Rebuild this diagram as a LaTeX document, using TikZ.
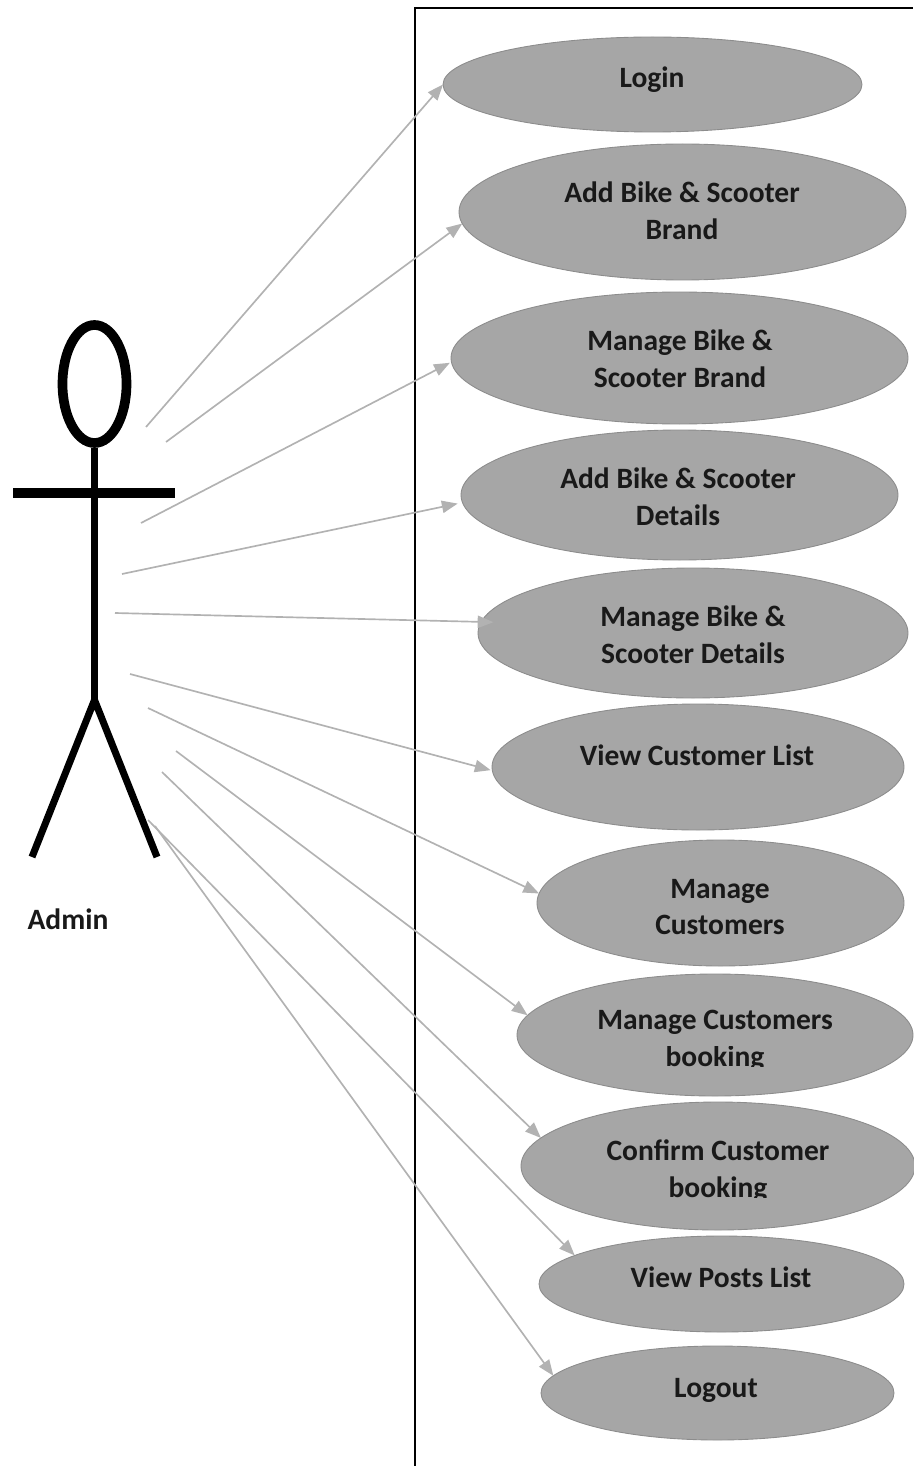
\documentclass[tikz,border=0pt]{standalone}
\usepackage{fontspec}
\usepackage{trimclip}
\setmainfont{Carlito}
\usetikzlibrary{arrows.meta, shapes.geometric}
\tikzset{
  usecase/.style={ellipse, draw=black!45, line width=0.5pt, fill=black!35, inner sep=0pt, outer sep=0pt},
  uclabel/.style={align=center, inner sep=0pt, font=\bfseries\fontsize{16.8}{21}\selectfont, text=black!90},
  usearrow/.style={draw=black!30, line width=0.95pt, -{Triangle[length=9pt,width=7pt]}},
  actorline/.style={draw=black, line width=4pt}
}
\newcommand{\cutg}[1]{\clipbox{0pt 3pt 0pt 0pt}{#1}}

\begin{document}
\begin{tikzpicture}[x=0.02cm, y=-0.02cm]
    \useasboundingbox (0, 0) rectangle (913, 1466);

    % boundary
    \draw[black, line width=0.9pt](415, 1466)--(415, 8)--(913, 8);

    % actor
    \node[ellipse, draw=black, line width=5.5pt, minimum width=64*0.02cm, minimum height=118*0.02cm, inner sep=0pt](head) at (94.5, 384){};
    \coordinate (hip) at (94.5, 700);
    \coordinate (armL) at (13, 493);
    \coordinate (armR) at (175, 493);
    \coordinate (footL) at (32, 857);
    \coordinate (footR) at (157, 857);
    \draw[actorline](head.south)--(hip);
    \draw[actorline, line width=6pt](armL)--(armR);
    \draw[actorline](footL)--(hip)--(footR);
    \node[uclabel](admin) at (68, 919.5){Admin};

    % use cases
    \node[usecase, minimum width=419*0.02cm, minimum height=95*0.02cm](uc1) at (652.5, 84.5){};
    \node[usecase, minimum width=447*0.02cm, minimum height=136*0.02cm](uc2) at (682.5, 212){};
    \node[usecase, minimum width=457*0.02cm, minimum height=132*0.02cm](uc3) at (679.5, 358){};
    \node[usecase, minimum width=437*0.02cm, minimum height=130*0.02cm](uc4) at (679.5, 495){};
    \node[usecase, minimum width=430*0.02cm, minimum height=130*0.02cm](uc5) at (693, 633){};
    \node[usecase, minimum width=412*0.02cm, minimum height=126*0.02cm](uc6) at (698, 767){};
    \node[usecase, minimum width=367*0.02cm, minimum height=126*0.02cm](uc7) at (720.5, 903){};
    \node[usecase, minimum width=396*0.02cm, minimum height=122*0.02cm](uc8) at (715, 1035){};
    \node[usecase, minimum width=394*0.02cm, minimum height=128*0.02cm](uc9) at (718, 1166){};
    \node[usecase, minimum width=365*0.02cm, minimum height=96*0.02cm](uc10) at (721.5, 1284){};
    \node[usecase, minimum width=353*0.02cm, minimum height=94*0.02cm](uc11) at (717.5, 1393){};

    \node[uclabel](txt1) at (652, 80){Login};
    \node[uclabel](txt2) at (682, 210.5){Add Bike \& Scooter\\Brand};
    \node[uclabel](txt3) at (680, 358.5){Manage Bike \&\\Scooter Brand};
    \node[uclabel](txt4) at (678, 496.5){Add Bike \& Scooter\\Details};
    \node[uclabel](txt5) at (693, 634.5){Manage Bike \&\\Scooter Details};
    \node[uclabel](txt6) at (697, 755){View Customer List};
    \node[uclabel](txt7) at (720, 907){Manage\\Customers};
    \node[uclabel](txt8) at (715, 1038.5){Manage Customers\\\cutg{booking}};
    \node[uclabel](txt9) at (718, 1168.5){Confirm Customer\\\cutg{booking}};
    \node[uclabel](txt10) at (721, 1277){View Posts List};
    \node[uclabel](txt11) at (716, 1390){Logout};

    % arrow starts around the actor
    \coordinate (s1) at (146, 427);
    \coordinate (s2) at (166, 442);
    \coordinate (s3) at (141, 523);
    \coordinate (s4) at (122, 574);
    \coordinate (s5) at (115, 613);
    \coordinate (s6) at (130, 674);
    \coordinate (s7) at (148, 708);
    \coordinate (s8) at (176, 751);
    \coordinate (s9) at (162, 772);
    \coordinate (s10) at (148, 820);
    \coordinate (s11) at (155, 826);

    \draw[usearrow](s1)--(uc1.180.7);
    \draw[usearrow](s2)--(uc2.183);
    \draw[usearrow, shorten >=1pt](s3)--(uc3.181);
    \draw[usearrow, shorten >=2.8pt](s4)--(uc4.182);
    \draw[usearrow, shorten >=-7pt](s5)--(uc5.177.5);
    \draw[usearrow, shorten >=1pt](s6)--(uc6.181);
    \draw[usearrow](s7)--(uc7.177.8);
    \draw[usearrow](s8)--(uc8.174.3);
    \draw[usearrow](s9)--(uc9.171.1);
    \draw[usearrow](s10)--(uc10.169.4);
    \draw[usearrow](s11)--(uc11.174.1);
\end{tikzpicture}
\end{document}
